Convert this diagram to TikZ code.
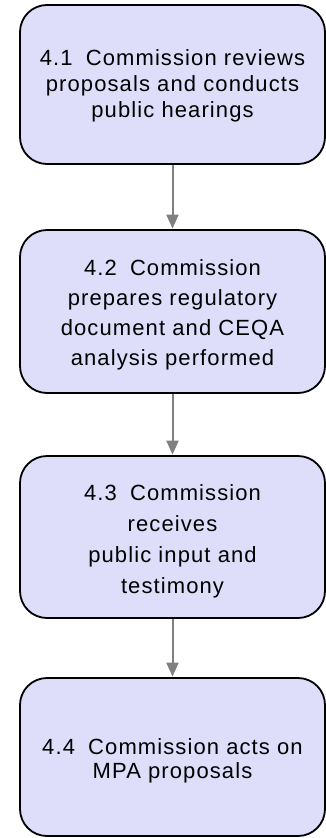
\documentclass[tikz,border=0pt]{standalone}
\usepackage{fontspec}
\setmainfont{Liberation Sans}[LetterSpace=5]
\usetikzlibrary{arrows.meta}
\definecolor{boxfill}{HTML}{DEDEFB}
\definecolor{arrowgray}{HTML}{808080}
\begin{document}
\begin{tikzpicture}[x=1pt,y=-1pt,
  stepbox/.style={draw=black, line width=1.8pt, fill=boxfill, rounded corners=27pt,
    minimum width=305pt, align=center, inner sep=0pt},
  flow/.style={draw=arrowgray, line width=2pt, -{Triangle[length=14pt,width=12pt]}, shorten >=0.5pt}]
\useasboundingbox (0,0) rectangle (326,838);
\node[stepbox, minimum height=159pt, font=\fontsize{22}{26}\selectfont] (b1) at (172.5,84.5)
  {\rule{0pt}{19pt}4.1\hspace{0.6em}Commission reviews\\proposals and conducts\\public hearings};
\node[stepbox, minimum height=163pt, font=\fontsize{22}{30}\selectfont] (b2) at (172.5,311.5)
  {\rule{0pt}{22pt}4.2\hspace{0.6em}Commission\\prepares regulatory\\document and CEQA\\analysis performed};
\node[stepbox, minimum height=162pt, font=\fontsize{22}{31}\selectfont] (b3) at (172.5,537)
  {\rule{0pt}{25pt}4.3\hspace{0.6em}Commission\\receives\\public input and\\testimony};
\node[stepbox, minimum height=158pt, font=\fontsize{22}{24}\selectfont] (b4) at (172.5,757)
  {\rule{0pt}{24pt}4.4\hspace{0.6em}Commission acts on\\MPA proposals};
\draw[flow] (b1.south) -- (b2.north);
\draw[flow] (b2.south) -- (b3.north);
\draw[flow] (b3.south) -- (b4.north);
\end{tikzpicture}
\end{document}
